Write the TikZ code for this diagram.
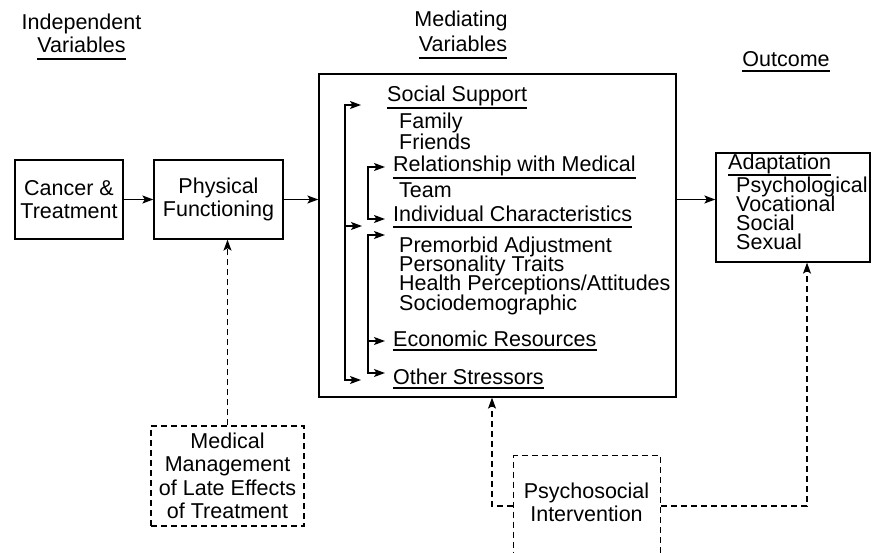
\documentclass[tikz,border=0pt]{standalone}
\usepackage{fontspec}
\setmainfont{Liberation Sans}
\usetikzlibrary{arrows.meta,calc}
\newcommand\mytightlines{\lineskiplimit=-100pt\relax\lineskip=0pt\relax}
\begin{document}
\begin{tikzpicture}[x=1pt,y=-1pt,
  txt/.style={font=\fontsize{21.5}{19}\selectfont, inner sep=0pt, anchor=base west},
  lst/.style={inner sep=0pt, anchor=north west, align=left},
  hdr/.style={font=\fontsize{21.5}{19}\selectfont, inner sep=0pt, anchor=base},
  box/.style={draw, line width=1.3pt, font=\fontsize{21.5}{23.5}\selectfont, align=center, inner sep=0pt},
  dbox/.style={box, dash pattern=on 6pt off 4pt},
  arr/.style={-{Stealth[length=11pt,width=8pt,inset=2.5pt]}, line width=1.3pt},
  darr/.style={arr, dash pattern=on 6pt off 4pt},
  ul/.style={line width=1.1pt}]
\useasboundingbox (0,0) rectangle (880,553);
\clip (0,0) rectangle (880,553);

% headers
\node[hdr] (indep) at (81.5,30) {Independent};
\node[hdr] (indvar) at (81.5,53) {Variables};
\draw[ul] ([yshift=-6pt]indvar.base west) -- ([yshift=-6pt]indvar.base east);
\node[hdr] (medi) at (461,27) {Mediating};
\node[hdr] (medvar) at (463,52) {Variables};
\draw[ul] ([yshift=-6pt]medvar.base west) -- ([yshift=-6pt]medvar.base east);
\node[hdr] (outc) at (786,67) {Outcome};
\draw[ul] ([yshift=-4pt]outc.base west) -- ([yshift=-4pt]outc.base east);

% boxes
\node[box, minimum width=108, minimum height=79] (cancer) at (69,199.5) {Cancer \&\\Treatment};
\node[box, minimum width=129, minimum height=79] (phys) at (218.5,199.5) {Physical\\Functioning};
\node[box, minimum width=357, minimum height=323] (med) at (497.5,235.5) {};
\node[box, minimum width=154, minimum height=109] (adapt) at (793,207.5) {};
\node[dbox, minimum width=153, minimum height=100] (mm) at (227.5,476) {Medical\\Management\\of Late Effects\\of Treatment};
\node[dbox, minimum width=147, minimum height=150, anchor=north west] (psy) at (513,455) {};
\node[font=\fontsize{21.5}{23.5}\selectfont, align=center, inner sep=0pt] (psyt) at (586.5,502.5) {Psychosocial\\Intervention};

% mediating texts
\node[txt] (ss) at (387,102) {Social Support};
\draw[ul] ([yshift=-6pt]ss.base west) -- ([yshift=-6pt]ss.base east);
\node[lst, font={\fontsize{21.5}{21}\selectfont\mytightlines}] (famfri) at (399,112.6) {Family\\Friends};
\node[txt] (rel) at (393,172) {Relationship with Medical};
\draw[ul] ([yshift=-6pt]rel.base west) -- ([yshift=-6pt]rel.base east);
\node[txt] (team) at (399,198) {Team};
\node[txt] (ind) at (393,222) {Individual Characteristics};
\draw[ul] ([yshift=-5pt]ind.base west) -- ([yshift=-5pt]ind.base east);
\node[lst, font={\fontsize{21.5}{19.2}\selectfont\mytightlines}] (indlist) at (399,236.8) {Premorbid Adjustment\\Personality Traits\\Health Perceptions/Attitudes\\Sociodemographic};
\node[txt] (eco) at (393,346) {Economic Resources};
\draw[ul] ([yshift=-4pt]eco.base west) -- ([yshift=-4pt]eco.base east);
\node[txt] (oth) at (393,384) {Other Stressors};
\draw[ul] ([yshift=-4pt]oth.base west) -- ([yshift=-4pt]oth.base east);

% adaptation texts
\node[txt] (ad) at (728,170) {Adaptation};
\draw[ul] ([yshift=-5pt]ad.base west) -- ([yshift=-5pt]ad.base east);
\node[lst, font={\fontsize{21.5}{19.2}\selectfont\mytightlines}] (adlist) at (736,176.6) {Psychological\\Vocational\\Social\\Sexual};

% main arrows
\draw[arr] (cancer.east) -- (phys.west);
\draw[arr] (phys.east) -- (phys.east -| med.west);
\draw[arr] (phys.east -| med.east) -- (phys.east -| adapt.west);

% brackets
\coordinate (oTop) at (345,105);
\coordinate (oBot) at (345,380);
\draw[arr] (oBot) -- (oTop) -- ++(16,0);
\draw[arr] (oTop) -- (oBot) -- ++(16,0);
\draw[arr] (oTop |- 0,226) -- ++(17,0);
\coordinate (i1Top) at (368,167);
\coordinate (i1Bot) at (368,219);
\draw[arr] (i1Bot) -- (i1Top) -- ++(17,0);
\draw[arr] (i1Top) -- (i1Bot) -- ++(17,0);
\coordinate (i2Top) at (368,235);
\coordinate (i2Bot) at (368,373);
\draw[arr] (i2Bot) -- (i2Top) -- ++(17,0);
\draw[arr] (i2Top) -- (i2Bot) -- ++(17,0);
\draw[arr] (i2Top |- 0,341) -- ++(17,0);

% dashed arrows
\draw[darr] (mm.north) -- (mm.north |- phys.south);
\coordinate (pl) at (492,506);
\coordinate (pr) at (807,506);
\draw[darr] (pl -| psy.west) -- (pl) -- (pl |- med.south);
\draw[darr] (pr -| psy.east) -- (pr) -- (pr |- adapt.south);
\end{tikzpicture}
\end{document}
